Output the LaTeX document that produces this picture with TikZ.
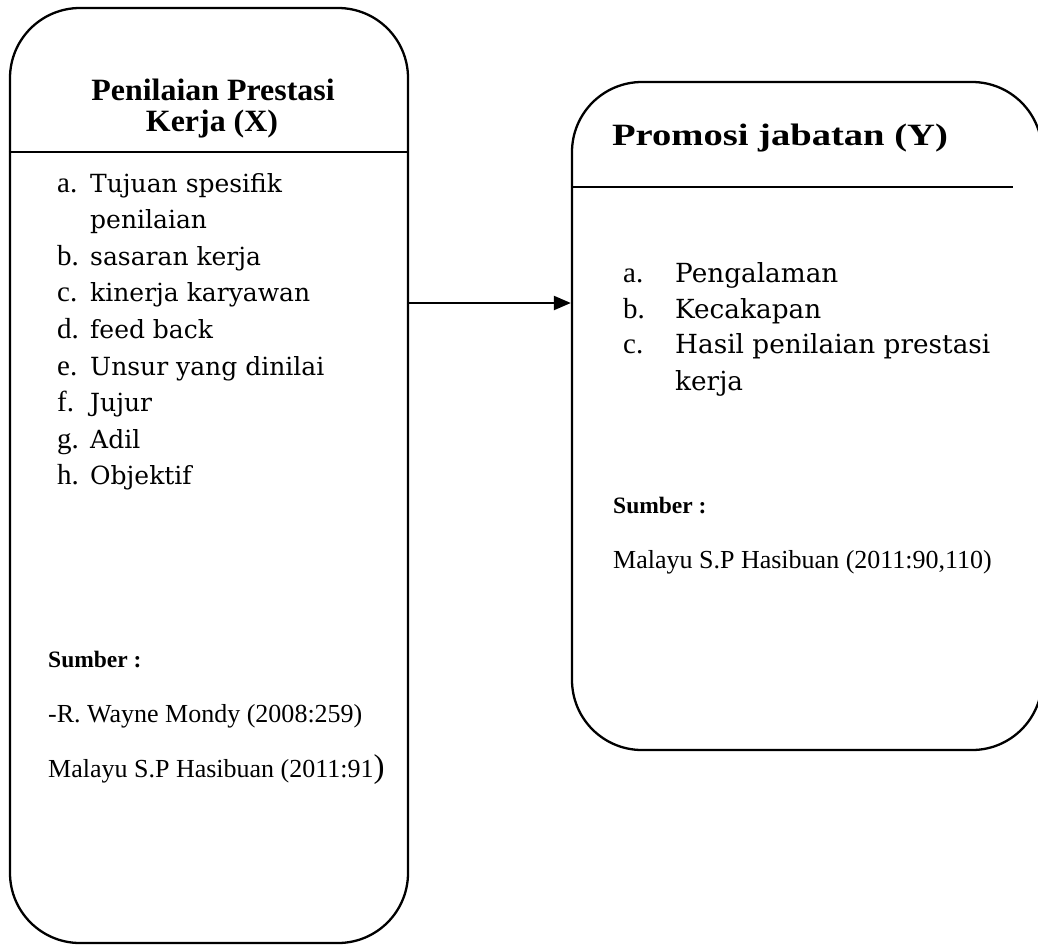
\documentclass[tikz,border=0pt]{standalone}
\usepackage{fontspec}
\setmainfont{Liberation Serif}
\newfontfamily\listfont{DejaVu Serif}
\usetikzlibrary{arrows.meta}
\begin{document}
\begin{tikzpicture}[x=1pt,y=-1pt,
  box/.style={draw, line width=2.3pt, rounded corners=70pt, inner sep=0pt},
  divider/.style={line width=1.8pt},
  conn/.style={line width=2.2pt, -{Triangle[length=17pt,width=14pt]}},
  title/.style={anchor=base, inner sep=0pt, font=\fontsize{31}{36}\selectfont\bfseries},
  lbl/.style={anchor=base west, inner sep=0pt, font=\fontsize{29}{32}\selectfont},
  item/.style={anchor=base west, inner sep=0pt, font=\fontsize{25}{30}\selectfont\listfont},
  ritem/.style={anchor=base west, inner sep=0pt, font=\fontsize{26.3}{30}\selectfont\listfont},
  src/.style={anchor=base west, inner sep=0pt, font=\fontsize{26}{30}\selectfont},
  srchead/.style={anchor=base west, inner sep=0pt, font=\fontsize{23.5}{26}\selectfont\bfseries}]
\useasboundingbox (0,0) rectangle (1038,945);
\clip (0,0) rectangle (1038,945);
% boxes
\node[box, minimum width=398pt, minimum height=935pt] (X) at (209,475.5) {};
\node[box, minimum width=470pt, minimum height=668pt] (Y) at (807,416) {};
% dividers
\draw[divider] (X.west |- 0,152) -- (X.east |- 0,152);
\coordinate (ydivend) at (1013,187);
\draw[divider] (Y.west |- ydivend) -- (ydivend);
% connector
\coordinate (arrowy) at (0,303);
\draw[conn] (X.east |- arrowy) -- (Y.west |- arrowy);
% titles
\node[title] (t1) at (213,100) {\scalebox{1.03}[1]{Penilaian Prestasi}};
\node[title] (t2) at (212,131) {\scalebox{1.03}[1]{Kerja (X)}};
\node[title] (t3) at (780,145) {\scalebox{1.245}[1]{Promosi jabatan (Y)}};
% left list
\node[lbl]  (la) at (57,192)   {a.};
\node[item] (ia) at (90,192)   {Tujuan spesifik};
\node[item] (ia2) at (90,228.6) {penilaian};
\node[lbl]  (lb) at (57,265)   {b.};
\node[item] (ib) at (90,265)   {sasaran kerja};
\node[lbl]  (lc) at (57,301.8) {c.};
\node[item] (ic) at (90,301.8) {kinerja karyawan};
\node[lbl]  (ld) at (57,338.4) {d.};
\node[item] (id) at (90,338.4) {feed back};
\node[lbl]  (le) at (57,375)   {e.};
\node[item] (ie) at (90,375)   {Unsur yang dinilai};
\node[lbl]  (lf) at (57,411.6) {f.};
\node[item] (if) at (90,411.6) {Jujur};
\node[lbl]  (lg) at (57,448.2) {g.};
\node[item] (ig) at (90,448.2) {Adil};
\node[lbl]  (lh) at (57,484.8) {h.};
\node[item] (ih) at (90,484.8) {Objektif};
% left sources
\node[srchead] (s1) at (48,667) {Sumber :};
\node[src] (s2) at (48,722) {-R. Wayne Mondy (2008:259)};
\node[src] (s3) at (48,777) {Malayu S.P Hasibuan (2011:91{\fontsize{33}{36}\selectfont)}};
% right list
\node[lbl]  (ra) at (623,282) {a.};
\node[ritem] (rai) at (675,282) {Pengalaman};
\node[lbl]  (rb) at (623,318) {b.};
\node[ritem] (rbi) at (675,318) {Kecakapan};
\node[lbl]  (rc) at (623,353) {c.};
\node[ritem] (rci) at (675,353) {Hasil penilaian prestasi};
\node[ritem] (rci2) at (675,390) {kerja};
% right sources
\node[srchead] (rs1) at (613,513) {Sumber :};
\node[src] (rs2) at (613,568) {Malayu S.P Hasibuan (2011:90,110)};
\end{tikzpicture}
\end{document}
